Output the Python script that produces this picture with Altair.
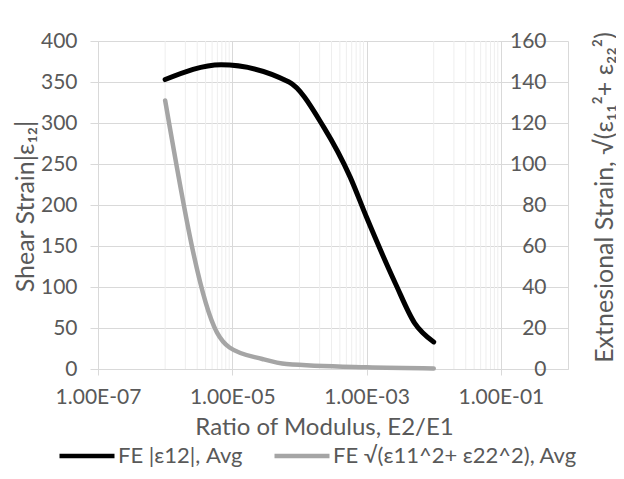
import math
import altair as alt
import pandas as pd

# ---- data ----
ratio_shear = [1e-6, 6.8e-6, 7e-5, 2.3e-4, 5.7e-4, 1e-3, 2.7e-3, 5.2e-3, 1e-2]
shear_strain = [353, 371, 350, 295, 234, 185, 104, 56, 33]

ratio_ext = [1e-6, 5.9e-6, 9.1e-6, 2.8e-5, 6.4e-5, 1e-3, 1e-2]
ext_strain = [131, 17.9, 10.5, 4.9, 2.4, 0.8, 0.3]

series_names = ["FE |ε12|, Avg", "FE √(ε11^2+ ε22^2), Avg"]
series_colors = ["#000000", "#a5a5a5"]

x_tick_values = [1e-7, 1e-5, 1e-3, 1e-1]
x_tick_labels = ["1.00E-07", "1.00E-05", "1.00E-03", "1.00E-01"]
minor_grid = [1e-6, 2e-6, 3e-6, 4e-6, 5e-6, 6e-6, 7e-6, 8e-6, 9e-6,
              1e-4, 2e-4, 3e-4, 4e-4, 5e-4, 6e-4, 7e-4, 8e-4, 9e-4,
              1e-2, 2e-2, 3e-2, 4e-2, 5e-2, 6e-2, 7e-2, 8e-2, 9e-2]
left_ticks = [0, 50, 100, 150, 200, 250, 300, 350, 400]
right_ticks = [0, 20, 40, 60, 80, 100, 120, 140, 160]

FONT = "Lato"
TXT = "#595959"
GRID = "#d9d9d9"
W, H = 470, 328

df_shear = pd.DataFrame({"x": ratio_shear, "y": shear_strain, "series": series_names[0]})
df_ext = pd.DataFrame({"x": ratio_ext, "y": ext_strain, "series": series_names[1]})
df_minor = pd.DataFrame({"x": minor_grid})

label_expr = "".join(
    f"abs(log(datum.value)/LN10 - ({math.log10(v):.4f})) < 0.01 ? '{lab}' : "
    for v, lab in zip(x_tick_values, x_tick_labels)
) + "''"

x_scale = alt.Scale(type="log", domain=[1e-7, 1], nice=False)
x_axis = alt.Axis(
    values=x_tick_values, labelExpr=label_expr, labelFlush=False, grid=True,
    gridColor=GRID, domain=True, domainColor=GRID, ticks=True, tickColor=GRID,
    tickSize=6, labelPadding=11, labelFont=FONT, labelFontSize=21, labelColor=TXT,
    title="Ratio of Modulus, E2/E1", titleFont=FONT, titleFontSize=24,
    titleFontWeight="normal", titleColor=TXT, titleX=226, titleY=65,
    titleAlign="center", titleBaseline="alphabetic",
)

color = alt.Color(
    "series:N",
    scale=alt.Scale(domain=series_names, range=series_colors),
    legend=alt.Legend(
        orient="none", legendX=-41, legendY=385, direction="horizontal",
        title=None, symbolType="stroke", symbolStrokeWidth=4.5, symbolSize=3025,
        labelFont=FONT, labelFontSize=22, labelColor=TXT, labelOffset=1,
        labelLimit=600, columnPadding=22, padding=0,
    ),
)

minor = alt.Chart(df_minor).mark_rule(color="#eeeeee", strokeWidth=1).encode(
    x=alt.X("x:Q", scale=x_scale, axis=x_axis),
    y=alt.value(0), y2=alt.value(H),
)

shear = alt.Chart(df_shear).mark_line(
    strokeWidth=5, interpolate="monotone", strokeCap="round", strokeJoin="round"
).encode(
    x=alt.X("x:Q", scale=x_scale, axis=x_axis),
    y=alt.Y("y:Q", scale=alt.Scale(domain=[0, 400], nice=False),
            axis=alt.Axis(
                orient="left", values=left_ticks, grid=True, gridColor=GRID,
                domain=True, domainColor=GRID, tickColor=GRID, tickSize=8,
                labelPadding=13, labelFont=FONT, labelFontSize=21, labelColor=TXT,
                title="Shear Strain|ε₁₂|", titleFont=FONT, titleFontSize=25,
                titleFontWeight="normal", titleColor=TXT, titleAngle=270,
                titleX=-65, titleY=165, titleAlign="center", titleBaseline="alphabetic",
            )),
    color=color,
)

ext = alt.Chart(df_ext).mark_line(
    strokeWidth=4.5, interpolate="monotone", strokeCap="round", strokeJoin="round"
).encode(
    x=alt.X("x:Q", scale=x_scale, axis=x_axis),
    y=alt.Y("y:Q", scale=alt.Scale(domain=[0, 160], nice=False),
            axis=alt.Axis(
                orient="right", values=right_ticks, grid=False,
                domain=True, domainColor=GRID, ticks=True, tickSize=0,
                tickColor="transparent", labelPadding=-22, labelAlign="right",
                labelFont=FONT, labelFontSize=21, labelColor=TXT,
                title="Extnesional Strain,  √(ε₁₁²+ ε₂₂²)", titleFont=FONT,
                titleFontSize=25, titleFontWeight="normal", titleColor=TXT,
                titleAngle=270, titleX=44, titleY=156, titleAlign="center",
                titleBaseline="alphabetic",
            )),
    color=color,
)

chart = (
    alt.layer(minor, shear, ext)
    .resolve_scale(y="independent")
    .properties(
        width=W, height=H,
        autosize=alt.AutoSizeParams(type="none"),
        padding={"left": 90, "top": 33, "right": 48, "bottom": 102},
        background="white",
    )
    .configure_view(stroke=None)
)

chart.save("out.html", embed_options={"renderer": "svg", "actions": False})
